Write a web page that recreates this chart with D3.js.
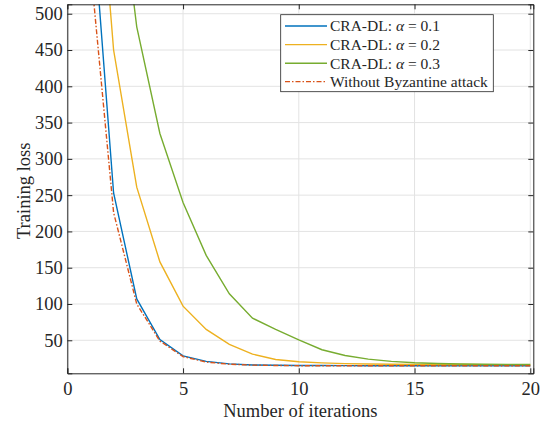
<!DOCTYPE html>
<html>
<head>
<meta charset="utf-8">
<script src="https://cdn.jsdelivr.net/npm/d3@7"></script>
<style>
    body { margin: 0; background: #fff; }
    #chart-area { width: 545px; height: 423px; }
    svg text { font-family: "Liberation Serif", "Times New Roman", serif; fill: #262626; }
</style>
</head>
<body>
<div id="chart-area"></div>
<script>
const iterations = [1, 2, 3, 4, 5, 6, 7, 8, 9, 10, 11, 12, 13, 14, 15, 16, 17, 18, 19, 20];
const alpha01 = [672, 253, 107, 51, 28.5, 21, 17.5, 16, 15.5, 15.3, 15.2, 15.1, 15, 15, 15, 15, 15, 15, 15, 15];
const alpha02 = [845, 450, 261, 158, 97, 65, 44.5, 31, 23.5, 20.5, 18.8, 17.8, 17.3, 17, 16.8, 16.7, 16.6, 16.5, 16.5, 16.5];
const alpha03 = [1150, 740, 482, 335, 240, 167, 114, 80.5, 65, 50.5, 37, 29, 24, 21, 19, 18, 17.3, 17, 16.8, 16.7];
const noAttack = [565, 226, 100, 49, 27.5, 20, 17, 15.8, 15.3, 15, 15, 15, 14.9, 14.9, 14.9, 14.9, 14.9, 14.9, 14.9, 14.9];

const xTicks = [0, 5, 10, 15, 20];
const yTicks = [50, 100, 150, 200, 250, 300, 350, 400, 450, 500];

const seriesNames = ['CRA-DL: ', 'CRA-DL: ', 'CRA-DL: ', 'Without Byzantine attack'];
const seriesAlpha = ['0.1', '0.2', '0.3', null];

document.addEventListener('DOMContentLoaded', function() {
    const series = [
        { values: alpha01, color: '#0072BD', dash: null },
        { values: alpha02, color: '#EDB120', dash: null },
        { values: alpha03, color: '#77AC30', dash: null },
        { values: noAttack, color: '#D95319', dash: '5,2,1.5,2' }
    ];

    const width = 545, height = 423;
    const margin = { top: 4.3, right: 11.7, bottom: 49.7, left: 67.3 };
    const innerW = width - margin.left - margin.right;
    const innerH = height - margin.top - margin.bottom;

    const svg = d3.select('#chart-area')
        .append('svg')
        .attr('width', width)
        .attr('height', height);

    const g = svg.append('g')
        .attr('transform', `translate(${margin.left},${margin.top})`);

    const xScale = d3.scaleLinear().domain([0, 20.13]).range([0, innerW]);
    const yScale = d3.scaleLinear().domain([4.5, 513]).range([innerH, 0]);

    // grid
    g.append('g')
        .selectAll('line')
        .data(xTicks)
        .join('line')
            .attr('x1', d => xScale(d)).attr('x2', d => xScale(d))
            .attr('y1', 0).attr('y2', innerH)
            .attr('stroke', '#e3e3e3').attr('stroke-width', 1);
    g.append('g')
        .selectAll('line')
        .data(yTicks)
        .join('line')
            .attr('x1', 0).attr('x2', innerW)
            .attr('y1', d => yScale(d)).attr('y2', d => yScale(d))
            .attr('stroke', '#e3e3e3').attr('stroke-width', 1);

    svg.append('defs').append('clipPath')
        .attr('id', 'plot-clip')
        .append('rect')
            .attr('width', innerW).attr('height', innerH);

    const line = d3.line()
        .x((d, i) => xScale(iterations[i]))
        .y(d => yScale(d));

    g.append('g')
        .attr('clip-path', 'url(#plot-clip)')
        .selectAll('path')
        .data(series)
        .join('path')
            .attr('d', d => line(d.values))
            .attr('fill', 'none')
            .attr('stroke', d => d.color)
            .attr('stroke-width', 1.4)
            .attr('stroke-dasharray', d => d.dash);

    // axes (box with inward ticks)
    const tickFont = '18.5px';
    const axisColor = '#262626';

    const xAxis = g.append('g')
        .attr('transform', `translate(0,${innerH})`)
        .call(d3.axisBottom(xScale).tickValues(xTicks).tickSize(-5).tickPadding(9));
    const xTop = g.append('g')
        .call(d3.axisTop(xScale).tickValues(xTicks).tickSize(-5).tickFormat(''));
    const yAxis = g.append('g')
        .call(d3.axisLeft(yScale).tickValues(yTicks).tickSize(-5).tickPadding(4.5));
    const yRight = g.append('g')
        .attr('transform', `translate(${innerW},0)`)
        .call(d3.axisRight(yScale).tickValues(yTicks).tickSize(-5).tickFormat(''));

    [xAxis, xTop, yAxis, yRight].forEach(a => {
        a.select('.domain').attr('stroke', axisColor).attr('stroke-width', 1);
        a.selectAll('.tick line').attr('stroke', axisColor).attr('stroke-width', 1);
        a.selectAll('text')
            .style('font-size', tickFont)
            .style('font-family', '"Liberation Serif", "Times New Roman", serif')
            .attr('fill', axisColor);
    });

    svg.append('text')
        .attr('x', margin.left + innerW / 2)
        .attr('y', 417)
        .attr('text-anchor', 'middle')
        .style('font-size', '18.5px')
        .text('Number of iterations');

    svg.append('text')
        .attr('transform', `translate(30,${margin.top + innerH / 2 + 2}) rotate(-90)`)
        .attr('text-anchor', 'middle')
        .style('font-size', '18.5px')
        .text('Training loss');

    // legend
    const legend = svg.append('g');
    legend.append('rect')
        .attr('x', 280.7).attr('y', 14.7)
        .attr('width', 212.6).attr('height', 77)
        .attr('fill', '#fff')
        .attr('stroke', axisColor)
        .attr('stroke-width', 0.8);

    const rowY = [26, 44.6, 63.2, 81.6];
    series.forEach((s, i) => {
        const item = legend.append('g').attr('transform', `translate(0,${rowY[i]})`);
        item.append('line')
            .attr('x1', 285).attr('x2', 327)
            .attr('stroke', s.color)
            .attr('stroke-width', 1.4)
            .attr('stroke-dasharray', s.dash);
        const t = item.append('text')
            .attr('x', 330)
            .attr('y', 5.3)
            .style('font-size', '15.5px');
        t.append('tspan').text(seriesNames[i]);
        if (seriesAlpha[i] !== null) {
            t.append('tspan').style('font-style', 'italic').text('\u03B1');
            t.append('tspan').text(' = ' + seriesAlpha[i]);
        }
    });
});
</script>
</body>
</html>
